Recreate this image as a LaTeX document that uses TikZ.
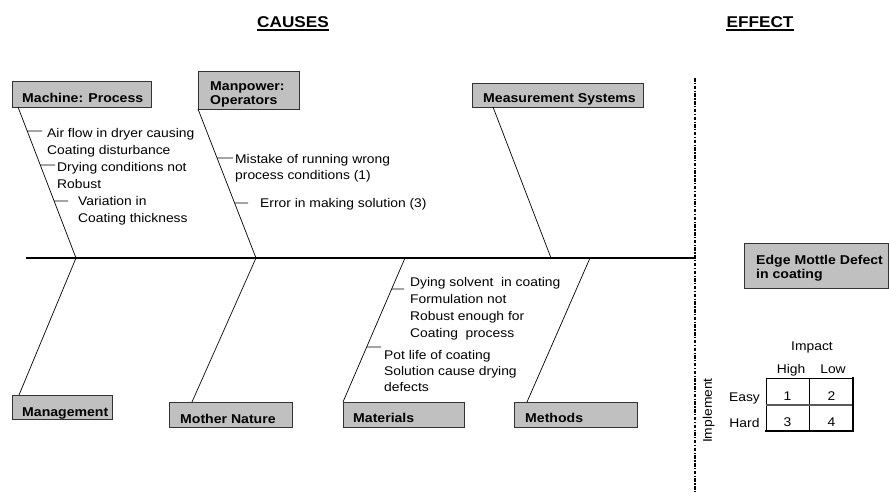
\documentclass[tikz,border=0pt]{standalone}
\usepackage{fontspec}
\setmainfont{Liberation Sans}[FakeStretch=1.1]
\usetikzlibrary{calc}
\definecolor{boxgray}{RGB}{192,192,192}
\begin{document}
\begin{tikzpicture}[x=1pt,y=-1pt,
  box/.style={draw=black!80, line width=0.9pt, fill=boxgray, inner sep=0pt, outer sep=0pt},
  boxlabel/.style={inner sep=0pt, anchor=base west, font=\fontsize{12.8}{13.3}\bfseries},
  boxlabels/.style={inner sep=0pt, anchor=north west, align=left, font=\fontsize{12.8}{#1}\bfseries},
  title/.style={inner sep=0pt, anchor=base, font=\fontsize{15.6}{18}\bfseries},
  note/.style={inner sep=0pt, anchor=north west, align=left, font=\fontsize{12.6}{#1}\selectfont},
  note/.default=17,
  plain/.style={inner sep=0pt, anchor=base, font=\fontsize{12.6}{15}\selectfont},
  bone/.style={line width=0.7pt},
  tick/.style={line width=0.7pt},
  spine/.style={line width=2.3pt},
  divider/.style={line width=1.4pt, dash pattern=on 3.5pt off 1.5pt on 1.2pt off 1.5pt},
  grid thin/.style={line width=0.8pt},
  grid thick/.style={line width=2pt, line cap=rect}
]
\useasboundingbox (0,0) rectangle (889,493);

% headings
\node[title] (causes) at (293,27.3) {CAUSES};
\node[title] (effect) at (760,27.3) {EFFECT};
\draw[line width=1.3pt] ($(causes.base west)+(0,2.6)$) -- ($(causes.base east)+(0,2.6)$);
\draw[line width=1.3pt] ($(effect.base west)+(0,2.6)$) -- ($(effect.base east)+(0,2.6)$);

% category boxes
\node[box, minimum width=139, minimum height=26] (mach) at (81.5,94) {};
\node[box, minimum width=101, minimum height=38] (manp) at (248.5,90) {};
\node[box, minimum width=171, minimum height=24] (meas) at (557.5,95) {};
\node[box, minimum width=100, minimum height=24] (mgmt) at (62,407) {};
\node[box, minimum width=123, minimum height=25] (moth) at (230.5,414.5) {};
\node[box, minimum width=121, minimum height=25] (matl) at (403.5,414.5) {};
\node[box, minimum width=123, minimum height=25] (meth) at (575.5,414.5) {};
\node[box, minimum width=144, minimum height=45] (defect) at (816,265.5) {};

\node[boxlabel] (machl) at (22,102.7) {Machine: Process};
\node[boxlabels=13.3] (manpl) at (210,81.8) {Manpower:\\Operators};
\node[boxlabel] (measl) at (483,102.7) {Measurement Systems};
\node[boxlabel] (mgmtl) at (22,416.7) {Management};
\node[boxlabel] (mothl) at (180,423.3) {Mother Nature};
\node[boxlabel] (matll) at (353,422.7) {Materials};
\node[boxlabel] (methl) at (525,422.7) {Methods};
\node[boxlabels=14] (defectl) at (756,254.8) {Edge Mottle Defect\\in coating};

% spine and divider
\coordinate (sp0) at (26,258);
\coordinate (sp1) at (695,258);
\coordinate (dtop) at (695,78);
\coordinate (dbot) at (695,493);
\draw[divider] (dtop) -- (dbot);
\draw[spine] (sp0) -- (sp1);

% joints on the spine
\coordinate (j1) at (76,258);
\coordinate (j2) at (256,258);
\coordinate (j3) at (551,258);
\coordinate (j4) at (405,258);
\coordinate (j5) at (590,258);

% bones
\draw[bone] ($(mach.south west)+(6,0)$) coordinate (b1) -- (j1);
\draw[bone] (j1) -- ($(mgmt.north west)+(7,0)$);
\draw[bone] (manp.south west) coordinate (b2) -- (j2);
\draw[bone] (j2) -- ($(moth.north west)+(23,0)$);
\draw[bone] ($(meas.south west)+(21,0)$) -- (j3);
\draw[bone] (j4) -- (matl.north west) coordinate (b6);
\draw[bone] (j5) -- ($(meth.north west)+(13,0)$);

% sub-causes
\coordinate (k1) at (42,131);
\coordinate (k2) at (55,165);
\coordinate (k3) at (68,201);
\coordinate (k4) at (233,158);
\coordinate (k5) at (248,203);
\coordinate (k6) at (404,289);
\coordinate (k7) at (381,347);
\draw[tick] ($(b1)!0.159!(j1)$) -- (k1);
\draw[tick] ($(b1)!0.384!(j1)$) -- (k2);
\draw[tick] ($(b1)!0.6225!(j1)$) -- (k3);
\draw[tick] ($(b2)!0.3289!(j2)$) -- (k4);
\draw[tick] ($(b2)!0.6309!(j2)$) -- (k5);
\draw[tick] ($(j4)!0.2153!(b6)$) -- (k6);
\draw[tick] ($(j4)!0.6181!(b6)$) -- (k7);

\node[note] (m1) at (47,128) {Air flow in dryer causing\\Coating disturbance};
\node[note] (m2) at (57,162) {Drying conditions not\\Robust};
\node[note] (m3) at (78,196) {Variation in\\Coating thickness};
\node[note=16] (p1) at (235,154) {Mistake of running wrong\\process conditions (1)};
\node[note] (p2) at (260,198) {Error in making solution (3)};
\node[note] (t1) at (410,277) {Dying solvent \ in coating\\Formulation not\\Robust enough for\\Coating \ process};
\node[note=16] (t2) at (384,350) {Pot life of coating\\Solution cause drying\\defects};

% priority grid
\coordinate (gtl) at (766,378);
\coordinate (gtr) at (853,378);
\coordinate (gbl) at (766,431);
\coordinate (gbr) at (853,431);
\coordinate (gml) at (766,405);
\coordinate (gmr) at (853,405);
\coordinate (gmt) at (809,378);
\coordinate (gmb) at (809,431);
\draw[grid thin] (gtl) -- (gtr);
\draw[grid thin] (gtl) -- (gbl);
\draw[grid thin] (gmt) -- (gmb);
\draw[line width=1.6pt, black!65] (gml) -- (gmr);
\draw[grid thick] (gtr) -- (gbr) -- (gbl);

\node[plain] (impact) at (812,350.7) {Impact};
\node[plain] (high) at (791,373.3) {High};
\node[plain] (low) at (833,373.3) {Low};
\node[plain] (easy) at (744.5,401) {Easy};
\node[plain] (hard) at (744.5,427) {Hard};
\node[plain] (n1) at (787.5,400.5) {1};
\node[plain] (n2) at (831.5,400.5) {2};
\node[plain] (n3) at (787.5,426.5) {3};
\node[plain] (n4) at (831.5,426.5) {4};
\node[inner sep=0pt, rotate=90, font=\fontsize{12.6}{15}\selectfont] (impl) at (708.5,410.5) {Implement};
\end{tikzpicture}
\end{document}
